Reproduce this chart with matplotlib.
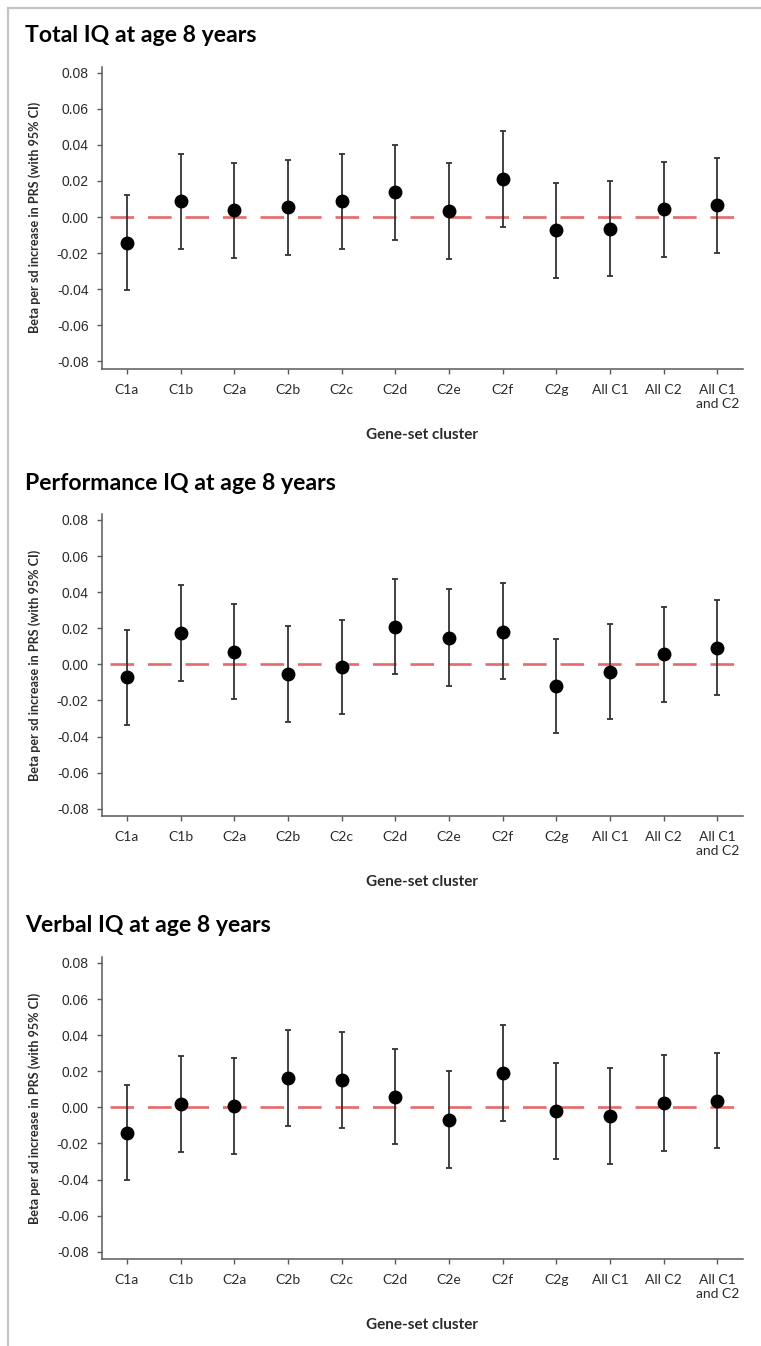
"""
gene-set cluster PRS associations with IQ at age 8
"""

import numpy as np
import matplotlib
matplotlib.use('Agg')
import matplotlib.pyplot as plt
from matplotlib.lines import Line2D

clusters = ['C1a', 'C1b', 'C2a', 'C2b', 'C2c', 'C2d', 'C2e', 'C2f', 'C2g',
            'All C1', 'All C2', 'All C1\nand C2']

# Total IQ
total_beta = [-0.0142, 0.0087, 0.0037, 0.0055, 0.0087, 0.0139, 0.0033, 0.0211, -0.0074, -0.0064, 0.0043, 0.0067]
total_lo = [-0.0402, -0.0177, -0.0227, -0.0208, -0.0175, -0.0125, -0.0233, -0.0053, -0.0336, -0.0327, -0.0222, -0.0197]
total_hi = [0.0122, 0.0347, 0.0299, 0.0318, 0.0347, 0.0401, 0.0301, 0.0476, 0.0188, 0.0198, 0.0305, 0.0329]

# Performance IQ
perf_beta = [-0.0072, 0.0172, 0.0067, -0.0054, -0.0015, 0.0209, 0.0148, 0.0180, -0.0122, -0.0041, 0.0056, 0.0093]
perf_lo = [-0.0335, -0.0091, -0.0194, -0.0317, -0.0276, -0.0054, -0.0119, -0.0083, -0.0383, -0.0302, -0.0209, -0.0170]
perf_hi = [0.0193, 0.0439, 0.0335, 0.0213, 0.0248, 0.0474, 0.0415, 0.0448, 0.0143, 0.0224, 0.0320, 0.0357]

# Verbal IQ
verbal_beta = [-0.0140, 0.0020, 0.0010, 0.0162, 0.0150, 0.0060, -0.0068, 0.0192, -0.0018, -0.0046, 0.0022, 0.0036]
verbal_lo = [-0.0405, -0.0245, -0.0258, -0.0105, -0.0116, -0.0205, -0.0335, -0.0073, -0.0285, -0.0312, -0.0244, -0.0228]
verbal_hi = [0.0125, 0.0285, 0.0274, 0.0428, 0.0415, 0.0325, 0.0202, 0.0458, 0.0248, 0.0220, 0.0288, 0.0302]

titles = ['Total IQ at age 8 years', 'Performance IQ at age 8 years', 'Verbal IQ at age 8 years']
yticks = [-0.08, -0.06, -0.04, -0.02, 0.00, 0.02, 0.04, 0.06, 0.08]

plt.rcParams['lines.scale_dashes'] = False

W, H = 761, 1346
fig = plt.figure(figsize=(W / 100, H / 100), dpi=100)

# light grey frame round the panels (top and left edge)
fig.add_artist(Line2D([8 / W, 8 / W], [0, 1 - 8 / H], color='#c4c4c4', lw=1.6))
fig.add_artist(Line2D([8 / W, 1], [1 - 8 / H, 1 - 8 / H], color='#c4c4c4', lw=1.6))

panels = [(total_beta, total_lo, total_hi),
          (perf_beta, perf_lo, perf_hi),
          (verbal_beta, verbal_lo, verbal_hi)]
ax_top = [66.7, 514.0, 957.0]     # pixel rows of the axes tops
ax_h = 302.3
ax_left, ax_w = 101.7, 641.0

x = np.arange(1, len(clusters) + 1)
axis_col = '#5a5a5a'
text_col = '#2b2b2b'

for k, (beta, lo, hi) in enumerate(panels):
    beta = np.array(beta)
    err = [beta - np.array(lo), np.array(hi) - beta]
    ax = fig.add_axes([ax_left / W, 1 - (ax_top[k] + ax_h) / H, ax_w / W, ax_h / H])

    ax.hlines(0, 0.69, 12.31, colors='#e66a6a', linewidth=1.9, linestyles=(0, (17, 10)), zorder=1)
    ax.errorbar(x, beta, yerr=err, fmt='o', color='black', markersize=9,
                ecolor='#333333', elinewidth=1.3, capsize=2.3, capthick=1.3, zorder=3)

    ax.set_xlim(0.53, 12.47)
    ax.set_ylim(-0.0842, 0.0833)
    ax.set_yticks(yticks)
    ax.set_yticklabels(['%.2f' % t for t in yticks], family='Liberation Sans', fontsize=10, color=text_col)
    ax.set_xticks(x)
    ax.set_xticklabels(clusters, family='Lato', fontsize=10, color=text_col, linespacing=1.25)
    ax.tick_params(axis='y', length=3.5, width=1, color=axis_col, pad=6)
    ax.tick_params(axis='x', length=3.5, width=1, color=axis_col, pad=7)
    for s in ['top', 'right']:
        ax.spines[s].set_visible(False)
    for s in ['left', 'bottom']:
        ax.spines[s].set_color(axis_col)
        ax.spines[s].set_linewidth(1.1)

    fig.text(25 / W, 1 - (ax_top[k] - 31) / H, titles[k], family='Lato', fontweight='bold',
             fontsize=16.6, ha='left', va='center', color='black')
    fig.text(35 / W, 1 - (ax_top[k] + ax_h / 2) / H, 'Beta per sd increase in PRS (with 95% CI)',
             family='Lato', fontweight='bold', fontsize=9.1, rotation=90, ha='center', va='center',
             color=text_col)
    fig.text((ax_left + ax_w / 2) / W, 1 - (ax_top[k] + ax_h + 66) / H, 'Gene-set cluster',
             family='Lato', fontweight='bold', fontsize=11, ha='center', va='center', color=text_col)

plt.savefig('out.png', dpi=100)
plt.close()
